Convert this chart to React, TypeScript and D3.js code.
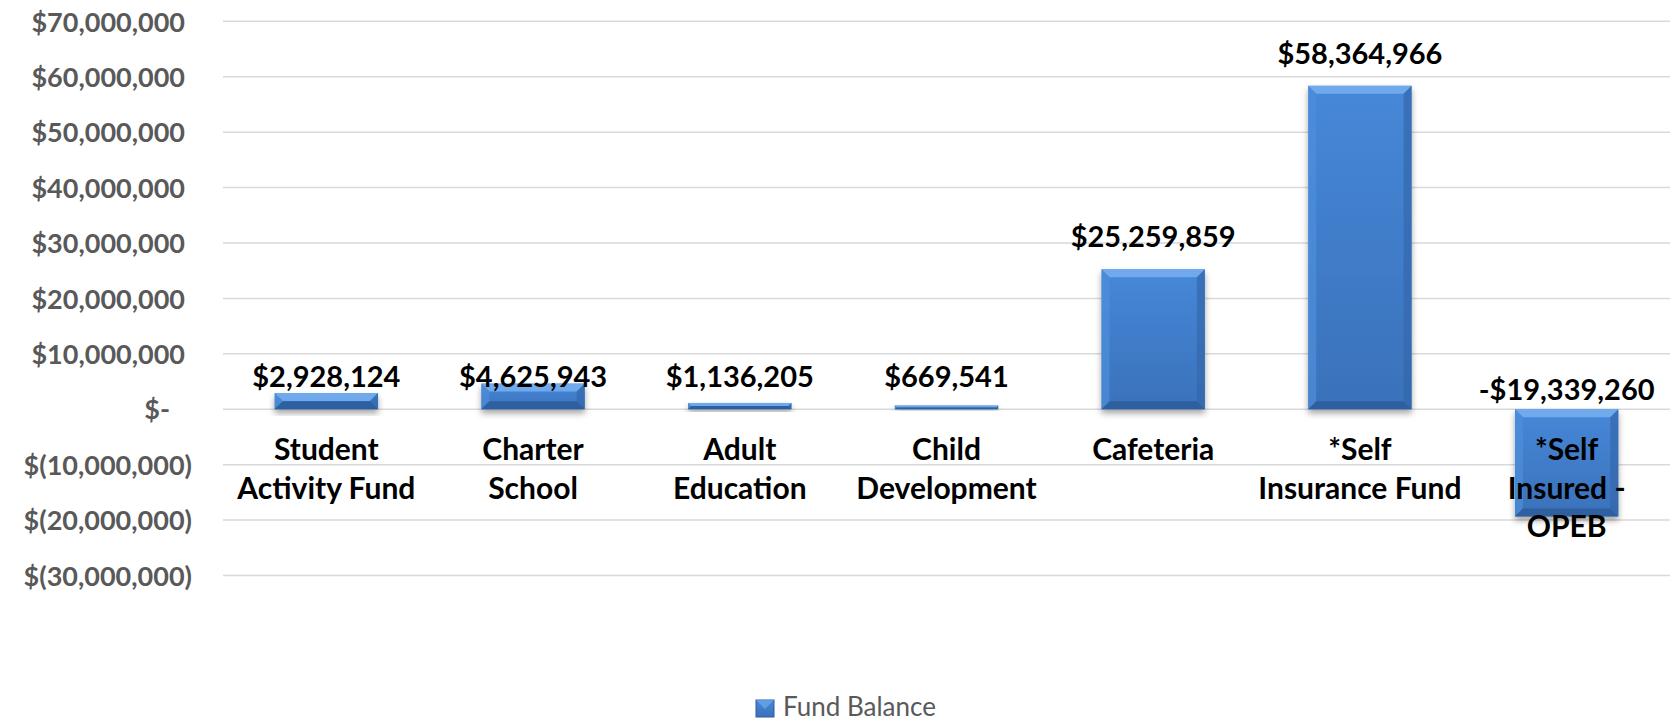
import React, { useEffect, useRef } from "react";
import * as d3 from "d3";

const categories = [
    "Student Activity Fund",
    "Charter School",
    "Adult Education",
    "Child Development",
    "Cafeteria",
    "*Self Insurance Fund",
    "*Self Insured - OPEB",
];
const categoryLines = [
    ["Student", "Activity Fund"],
    ["Charter", "School"],
    ["Adult", "Education"],
    ["Child", "Development"],
    ["Cafeteria"],
    ["*Self", "Insurance Fund"],
    ["*Self", "Insured -", "OPEB"],
];
const fundBalance = [2928124, 4625943, 1136205, 669541, 25259859, 58364966, -19339260];
const yTicks = [70e6, 60e6, 50e6, 40e6, 30e6, 20e6, 10e6, 0, -10e6, -20e6, -30e6];
const seriesName = "Fund Balance";

const W = 1671;
const H = 722;
const FONT = "Lato, 'Open Sans', sans-serif";

const fmtAxis = (v: number) => {
    if (v === 0) return "$-";
    const s = d3.format(",")(Math.abs(v));
    return v < 0 ? `$(${s})` : `$${s}`;
};
const fmtLabel = (v: number) => (v < 0 ? "-" : "") + "$" + d3.format(",")(Math.abs(v));

const App = () => {
    const ref = useRef<SVGSVGElement>(null);

    useEffect(() => {
        if (!ref.current) return;
        const svg = d3.select(ref.current);
        svg.selectAll("*").remove();
        svg.attr("width", W).attr("height", H);

        const defs = svg.append("defs");
        const grad = defs
            .append("linearGradient")
            .attr("id", "barFill")
            .attr("x1", 0)
            .attr("y1", 0)
            .attr("x2", 0)
            .attr("y2", 1);
        grad.append("stop").attr("offset", "0%").attr("stop-color", "#4688d8");
        grad.append("stop").attr("offset", "100%").attr("stop-color", "#3a71ba");

        const shadow = defs
            .append("filter")
            .attr("id", "shadow")
            .attr("x", "-20%")
            .attr("y", "-20%")
            .attr("width", "140%")
            .attr("height", "160%");
        shadow
            .append("feDropShadow")
            .attr("dx", 0)
            .attr("dy", 4)
            .attr("stdDeviation", 3)
            .attr("flood-color", "#000")
            .attr("flood-opacity", 0.35);

        const x = d3
            .scaleBand()
            .domain(categories)
            .range([223, 1670])
            .paddingInner(0.5)
            .paddingOuter(0.25);

        const y = d3.scaleLinear().domain([-30e6, 70e6]).range([575.5, 21.3]);

        // gridlines
        svg.append("g")
            .selectAll("line")
            .data(yTicks)
            .enter()
            .append("line")
            .attr("x1", 223)
            .attr("x2", 1670)
            .attr("y1", (d) => y(d))
            .attr("y2", (d) => y(d))
            .attr("stroke", "#d9d9d9")
            .attr("stroke-width", 1.5);

        // y axis labels
        const yAxis = d3
            .axisLeft(y)
            .tickValues(yTicks)
            .tickFormat((d) => fmtAxis(+d))
            .tickSize(0)
            .tickPadding(0);

        const ag = svg.append("g").attr("transform", "translate(192,0)").call(yAxis);
        ag.select(".domain").remove();
        ag.selectAll("text")
            .attr("font-family", FONT)
            .attr("font-weight", 700)
            .attr("font-size", 27)
            .attr("fill", "#595959")
            .attr("dy", "0.36em")
            .attr("dx", (d: any) => (d > 0 ? -7 : d === 0 ? -22 : 0));

        // bars
        const bw = x.bandwidth();
        const bars = svg
            .append("g")
            .selectAll("g")
            .data(fundBalance)
            .enter()
            .append("g")
            .attr("filter", "url(#shadow)");

        bars.each(function (v, i) {
            const g = d3.select(this);
            const x0 = x(categories[i])!;
            const x1 = x0 + bw;
            const y0 = Math.min(y(v), y(0));
            const y1 = Math.max(y(v), y(0));
            const b = Math.min(8, (y1 - y0) / 2);
            g.append("rect")
                .attr("x", x0)
                .attr("y", y0)
                .attr("width", bw)
                .attr("height", y1 - y0)
                .attr("fill", "url(#barFill)");
            const pt = (p: number[][]) => p.map((q) => q.join(",")).join(" ");
            g.append("polygon")
                .attr("points", pt([[x0, y0], [x1, y0], [x1 - b, y0 + b], [x0 + b, y0 + b]]))
                .attr("fill", "#78b0f0")
                .attr("opacity", 0.85);
            g.append("polygon")
                .attr("points", pt([[x0, y0], [x0 + b, y0 + b], [x0 + b, y1 - b], [x0, y1]]))
                .attr("fill", "#4f8fdc")
                .attr("opacity", 0.7);
            g.append("polygon")
                .attr("points", pt([[x1, y0], [x1 - b, y0 + b], [x1 - b, y1 - b], [x1, y1]]))
                .attr("fill", "#3468ad")
                .attr("opacity", 0.7);
            g.append("polygon")
                .attr("points", pt([[x0, y1], [x1, y1], [x1 - b, y1 - b], [x0 + b, y1 - b]]))
                .attr("fill", "#2d5c9a")
                .attr("opacity", 0.85);
        });

        // category labels
        const cg = svg.append("g");
        categoryLines.forEach((lines, i) => {
            const cx = x(categories[i])! + bw / 2;
            const t = cg
                .append("text")
                .attr("x", cx)
                .attr("y", 460)
                .attr("text-anchor", "middle")
                .attr("font-family", FONT)
                .attr("font-weight", 700)
                .attr("font-size", 30)
                .attr("fill", "#000");
            lines.forEach((ln, j) => {
                t.append("tspan").attr("x", cx).attr("dy", j === 0 ? 0 : 38.5).text(ln);
            });
        });

        // data labels
        svg.append("g")
            .selectAll("text")
            .data(fundBalance)
            .enter()
            .append("text")
            .attr("x", (_, i) => x(categories[i])! + bw / 2)
            .attr("y", (d) => (d < 0 ? y(0) - 9 : (d > 10e6 ? y(d) : y(0)) - 22))
            .attr("text-anchor", "middle")
            .attr("font-family", FONT)
            .attr("font-weight", 700)
            .attr("font-size", 29)
            .attr("fill", "#000")
            .text((d) => fmtLabel(d));

        // legend
        const lg = svg.append("g");
        lg.append("rect")
            .attr("x", 756)
            .attr("y", 700)
            .attr("width", 18)
            .attr("height", 17)
            .attr("fill", "url(#barFill)")
            .attr("stroke", "#2d5c9a")
            .attr("stroke-width", 1);
        lg.append("polygon")
            .attr("points", "756,700 774,700 765,709")
            .attr("fill", "#78b0f0")
            .attr("opacity", 0.6);
        lg.append("text")
            .attr("x", 783)
            .attr("y", 716)
            .attr("font-family", FONT)
            .attr("font-size", 26)
            .attr("fill", "#595959")
            .text(seriesName);
    }, []);

    return (
        <svg
            ref={ref}
            style={{ position: "absolute", left: 0, top: 0, display: "block" }}
        />
    );
};

export default App;
